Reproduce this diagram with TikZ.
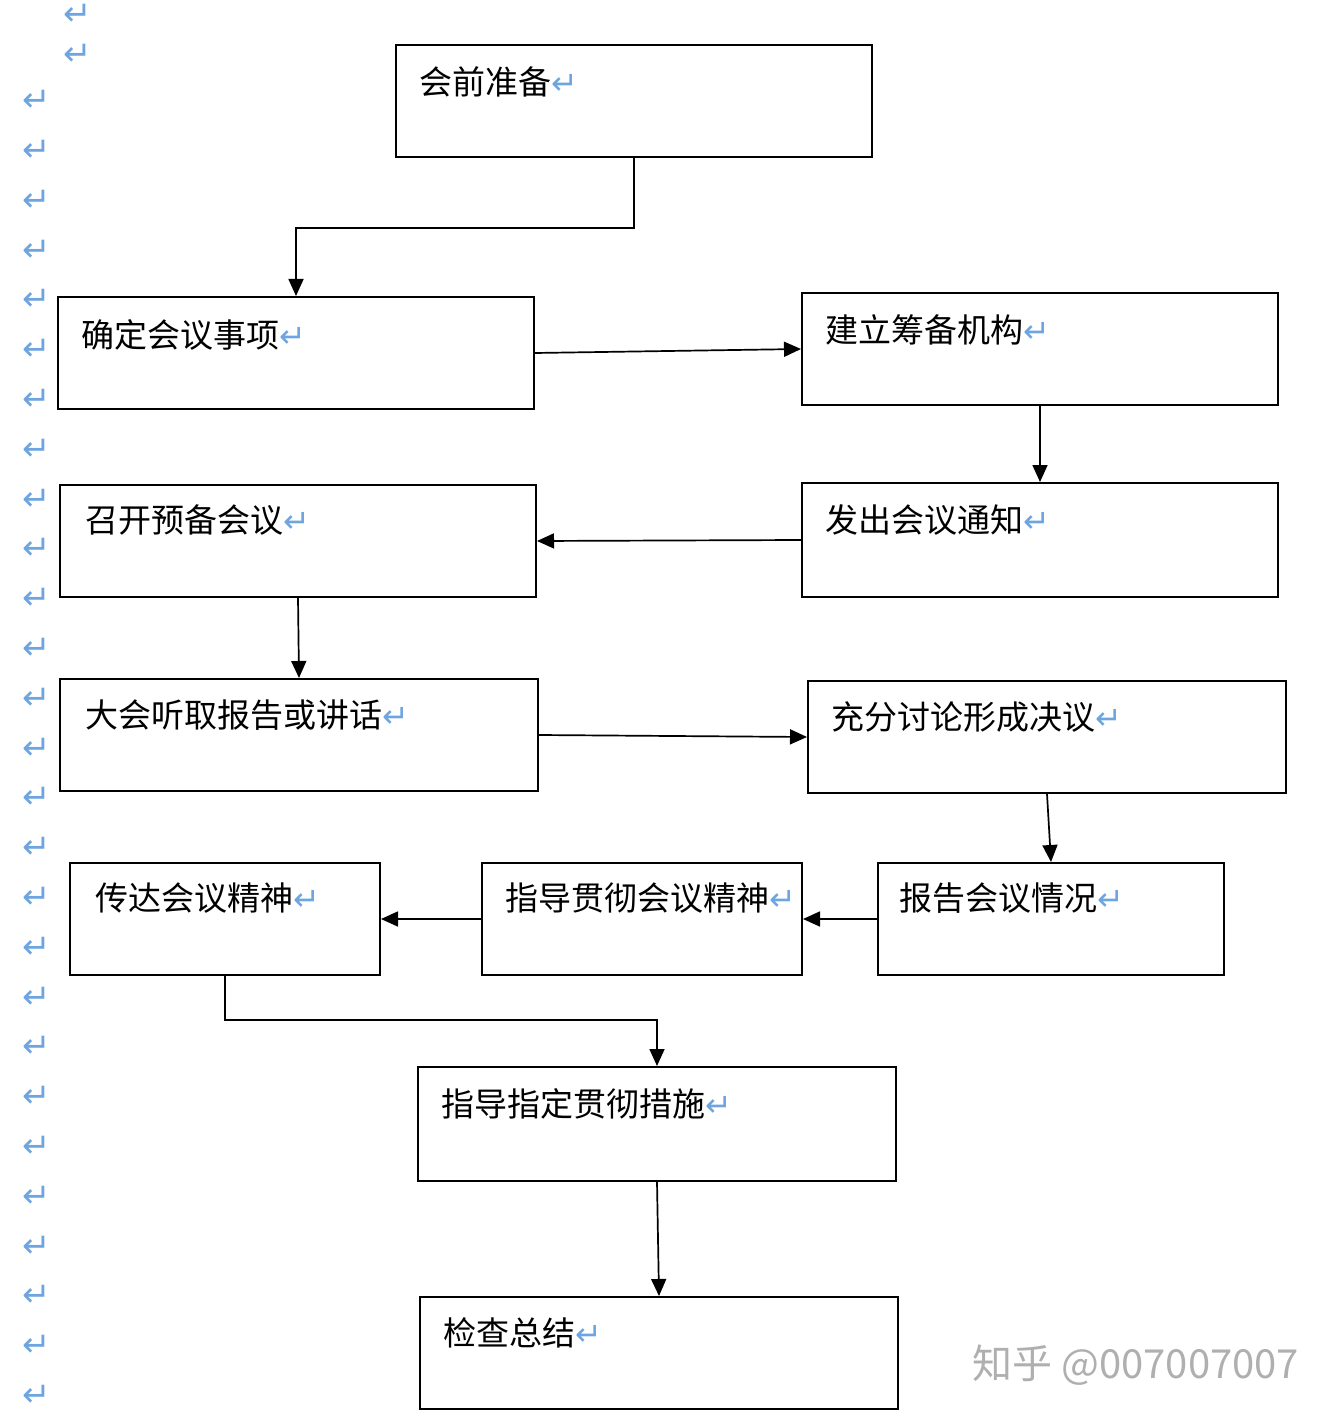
\documentclass[tikz,border=0pt]{standalone}
\usepackage{fontspec}
\setmainfont{Noto Sans CJK SC}
\newfontfamily\markfont{DejaVu Sans}
\usepackage{xcolor}
\usetikzlibrary{arrows.meta}
\definecolor{markblue}{RGB}{110,165,225}
\definecolor{wmgray}{RGB}{175,175,175}
\newcommand{\ret}{{\markfont\fontsize{16}{16}\selectfont\color{markblue}↵}}

\begin{document}
\begin{tikzpicture}[x=0.5pt,y=-0.5pt]
	\tikzstyle{box}=[draw, line width=1pt, rectangle, inner sep=0pt, anchor=north west]
	\tikzstyle{txt}=[anchor=west, inner sep=0pt, font=\fontsize{16.5}{20}\selectfont]
	\tikzstyle{link}=[line width=0.85pt, -{Triangle[length=8.5pt,width=7.5pt]}]
	\tikzstyle{pmark}=[inner sep=0pt, text=markblue, font=\markfont\fontsize{17}{17}\selectfont]

	\useasboundingbox (0,0) rectangle (1336,1422);

	\node[box, minimum width=238pt, minimum height=56pt] (b1) at (395,44) {};
	\node[box, minimum width=238pt, minimum height=56pt] (b2) at (57,296) {};
	\node[box, minimum width=238pt, minimum height=56pt] (b3) at (801,292) {};
	\node[box, minimum width=238pt, minimum height=57pt] (b4) at (801,482) {};
	\node[box, minimum width=238pt, minimum height=56pt] (b5) at (59,484) {};
	\node[box, minimum width=239pt, minimum height=56pt] (b6) at (59,678) {};
	\node[box, minimum width=239pt, minimum height=56pt] (b7) at (807,680) {};
	\node[box, minimum width=173pt, minimum height=56pt] (b8) at (877,862) {};
	\node[box, minimum width=160pt, minimum height=56pt] (b9) at (481,862) {};
	\node[box, minimum width=155pt, minimum height=56pt] (b10) at (69,862) {};
	\node[box, minimum width=239pt, minimum height=57pt] (b11) at (417,1066) {};
	\node[box, minimum width=239pt, minimum height=56pt] (b12) at (419,1296) {};

	\node[txt] (t1) at ([shift={(24,38)}]b1.north west) {会前准备\ret};
	\node[txt] (t2) at ([shift={(24,39)}]b2.north west) {确定会议事项\ret};
	\node[txt] (t3) at ([shift={(24,38)}]b3.north west) {建立筹备机构\ret};
	\node[txt] (t4) at ([shift={(24,38)}]b4.north west) {发出会议通知\ret};
	\node[txt] (t5) at ([shift={(26,36)}]b5.north west) {召开预备会议\ret};
	\node[txt] (t6) at ([shift={(26,37)}]b6.north west) {大会听取报告或讲话\ret};
	\node[txt] (t7) at ([shift={(24,37)}]b7.north west) {充分讨论形成决议\ret};
	\node[txt] (t8) at ([shift={(22,36)}]b8.north west) {报告会议情况\ret};
	\node[txt] (t9) at ([shift={(24,36)}]b9.north west) {指导贯彻会议精神\ret};
	\node[txt] (t10) at ([shift={(26,36)}]b10.north west) {传达会议精神\ret};
	\node[txt] (t11) at ([shift={(24,38)}]b11.north west) {指导指定贯彻措施\ret};
	\node[txt] (t12) at ([shift={(24,37)}]b12.north west) {检查总结\ret};

	\draw[link] (b1.south) -- ++(0,70) -| (b2.north);
	\draw[link] (b2.east) -- (b3.west);
	\draw[link] (b3.south) -- (b4.north);
	\draw[link] (b4.west) -- (b5.east);
	\draw[link] (b5.south) -- (b6.north);
	\draw[link] (b6.east) -- (b7.west);
	\draw[link] (b7.south) -- (b8.north);
	\draw[link] (b8.west) -- (b9.east);
	\draw[link] (b9.west) -- (b10.east);
	\draw[link] (b10.south) -- ++(0,44) -| (b11.north);
	\draw[link] (b11.south) -- (b12.north);

	\node[pmark] (m0) at (78,15) {↵};
	\node[pmark] (m00) at (78,55) {↵};
	\foreach \i in {0,...,26}
		\node[pmark] (m\i) at (37,{101+49.8*\i}) {↵};

	\node[anchor=west, inner sep=0pt, text=wmgray, font=\fontsize{20}{24}\selectfont] (wm) at (972,1365) {知乎 @007007007};
\end{tikzpicture}
\end{document}
